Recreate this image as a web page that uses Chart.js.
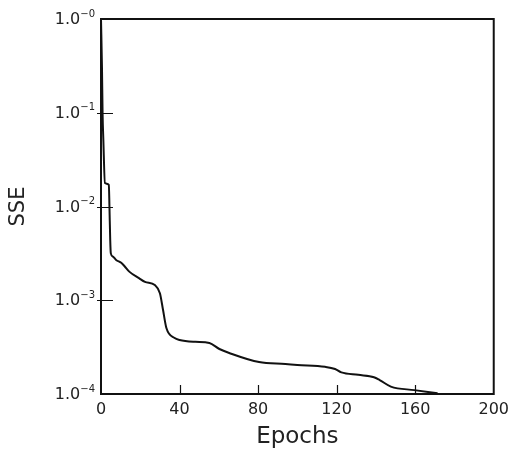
<!DOCTYPE html>
<html>
<head>
<meta charset="utf-8">
<script src="https://cdn.jsdelivr.net/npm/chart.js@4/dist/chart.umd.min.js"></script>
<style>
  html, body { margin: 0; padding: 0; background: #fff; }
  canvas { display: block; }
</style>
</head>
<body>
<canvas id="sseChart" width="515" height="452"></canvas>
<script>
// Curva de error (SSE) por época
const epochs = [0, 0.5, 0.8, 1.2, 2.0, 4.0, 4.3, 4.7, 5.0, 6.1, 7.7, 10.3, 11.9, 14.4, 19.5, 22.4, 27.4, 30.0,
  31.6, 33.3, 37.5, 40, 48, 55.2, 60.3, 65.3, 80.5, 93.9, 100, 114.1, 119.2, 122.4, 131, 139, 141.9,
  147.6, 159.6, 171.4];
const sse = [1.0, 0.3, 0.1, 0.051, 0.0178, 0.0170, 0.0100, 0.00437, 0.00316, 0.00292, 0.00269, 0.00251,
  0.00232, 0.00202, 0.00171, 0.00157, 0.00145, 0.00119, 0.000787, 0.000506, 0.000395, 0.000377, 0.00036,
  0.00035, 0.000302, 0.000274, 0.000219, 0.000209, 0.000204, 0.000195, 0.000185, 0.000170, 0.000160,
  0.000151, 0.000141, 0.00012, 0.00011, 0.000102];

// Marcas de los ejes
const xTicks = [0, 40, 80, 120, 160, 200];
const yTicks = [1, 1e-1, 1e-2, 1e-3, 1e-4];
const yTickBase = '1.0';
const yTickExp = ['−0', '−1', '−2', '−3', '−4'];

const FONT = '"DejaVu Sans", sans-serif';
const INK = '#111';
const TEXT = '#222';

// Marco, marcas interiores y etiquetas del eje Y con exponente
const framePlugin = {
  id: 'frame',
  afterDraw(chart) {
    const { ctx, chartArea: a, scales: { x, y } } = chart;
    ctx.save();
    ctx.strokeStyle = INK;
    ctx.lineWidth = 2;
    ctx.strokeRect(a.left, a.top, a.right - a.left, a.bottom - a.top);

    ctx.lineWidth = 1.2;
    ctx.beginPath();
    yTicks.slice(1, -1).forEach(v => {
      const py = Math.round(y.getPixelForValue(v)) + 0.5;
      ctx.moveTo(a.left - 4, py);
      ctx.lineTo(a.left + 12, py);
    });
    xTicks.slice(1, -1).forEach(v => {
      const px = Math.round(x.getPixelForValue(v)) + 0.5;
      ctx.moveTo(px, a.bottom);
      ctx.lineTo(px, a.bottom - 9);
    });
    ctx.stroke();

    ctx.fillStyle = TEXT;
    ctx.textAlign = 'right';
    ctx.textBaseline = 'middle';
    yTicks.forEach((v, i) => {
      const py = y.getPixelForValue(v);
      ctx.font = '10px ' + FONT;
      const ew = ctx.measureText(yTickExp[i]).width;
      ctx.fillText(yTickExp[i], a.left - 6, py - 5);
      ctx.font = '16px ' + FONT;
      ctx.fillText(yTickBase, a.left - 6 - ew, py + 1);
    });
    ctx.restore();
  }
};

const ctx = document.getElementById('sseChart').getContext('2d');
new Chart(ctx, {
  type: 'line',
  data: {
    datasets: [{
      data: epochs.map((e, i) => ({ x: e, y: sse[i] })),
      borderColor: INK,
      borderWidth: 2,
      pointRadius: 0,
      cubicInterpolationMode: 'monotone',
      fill: false
    }]
  },
  options: {
    responsive: false,
    animation: false,
    layout: { padding: { top: 19, right: 18, left: 0, bottom: 0 } },
    plugins: {
      legend: { display: false },
      tooltip: { enabled: false }
    },
    scales: {
      x: {
        type: 'linear',
        min: 0,
        max: 200,
        afterBuildTicks: (scale) => { scale.ticks = xTicks.map(v => ({ value: v })); },
        afterFit: (scale) => { scale.height = 58; },
        grid: { display: false, drawTicks: false },
        border: { display: false },
        ticks: {
          color: TEXT,
          padding: 6,
          maxRotation: 0,
          font: { family: FONT, size: 16 }
        },
        title: {
          display: true,
          text: 'Epochs',
          color: TEXT,
          padding: { top: 0, bottom: 1 },
          font: { family: FONT, size: 23 }
        }
      },
      y: {
        type: 'logarithmic',
        min: 1e-4,
        max: 1,
        afterBuildTicks: (scale) => { scale.ticks = yTicks.map(v => ({ value: v })); },
        afterFit: (scale) => { scale.width = 101; },
        grid: { display: false, drawTicks: false },
        border: { display: false },
        ticks: { display: false },
        title: {
          display: true,
          text: 'SSE',
          color: TEXT,
          padding: { top: 6, bottom: 0 },
          font: { family: FONT, size: 21 }
        }
      }
    }
  },
  plugins: [framePlugin]
});
</script>
</body>
</html>
